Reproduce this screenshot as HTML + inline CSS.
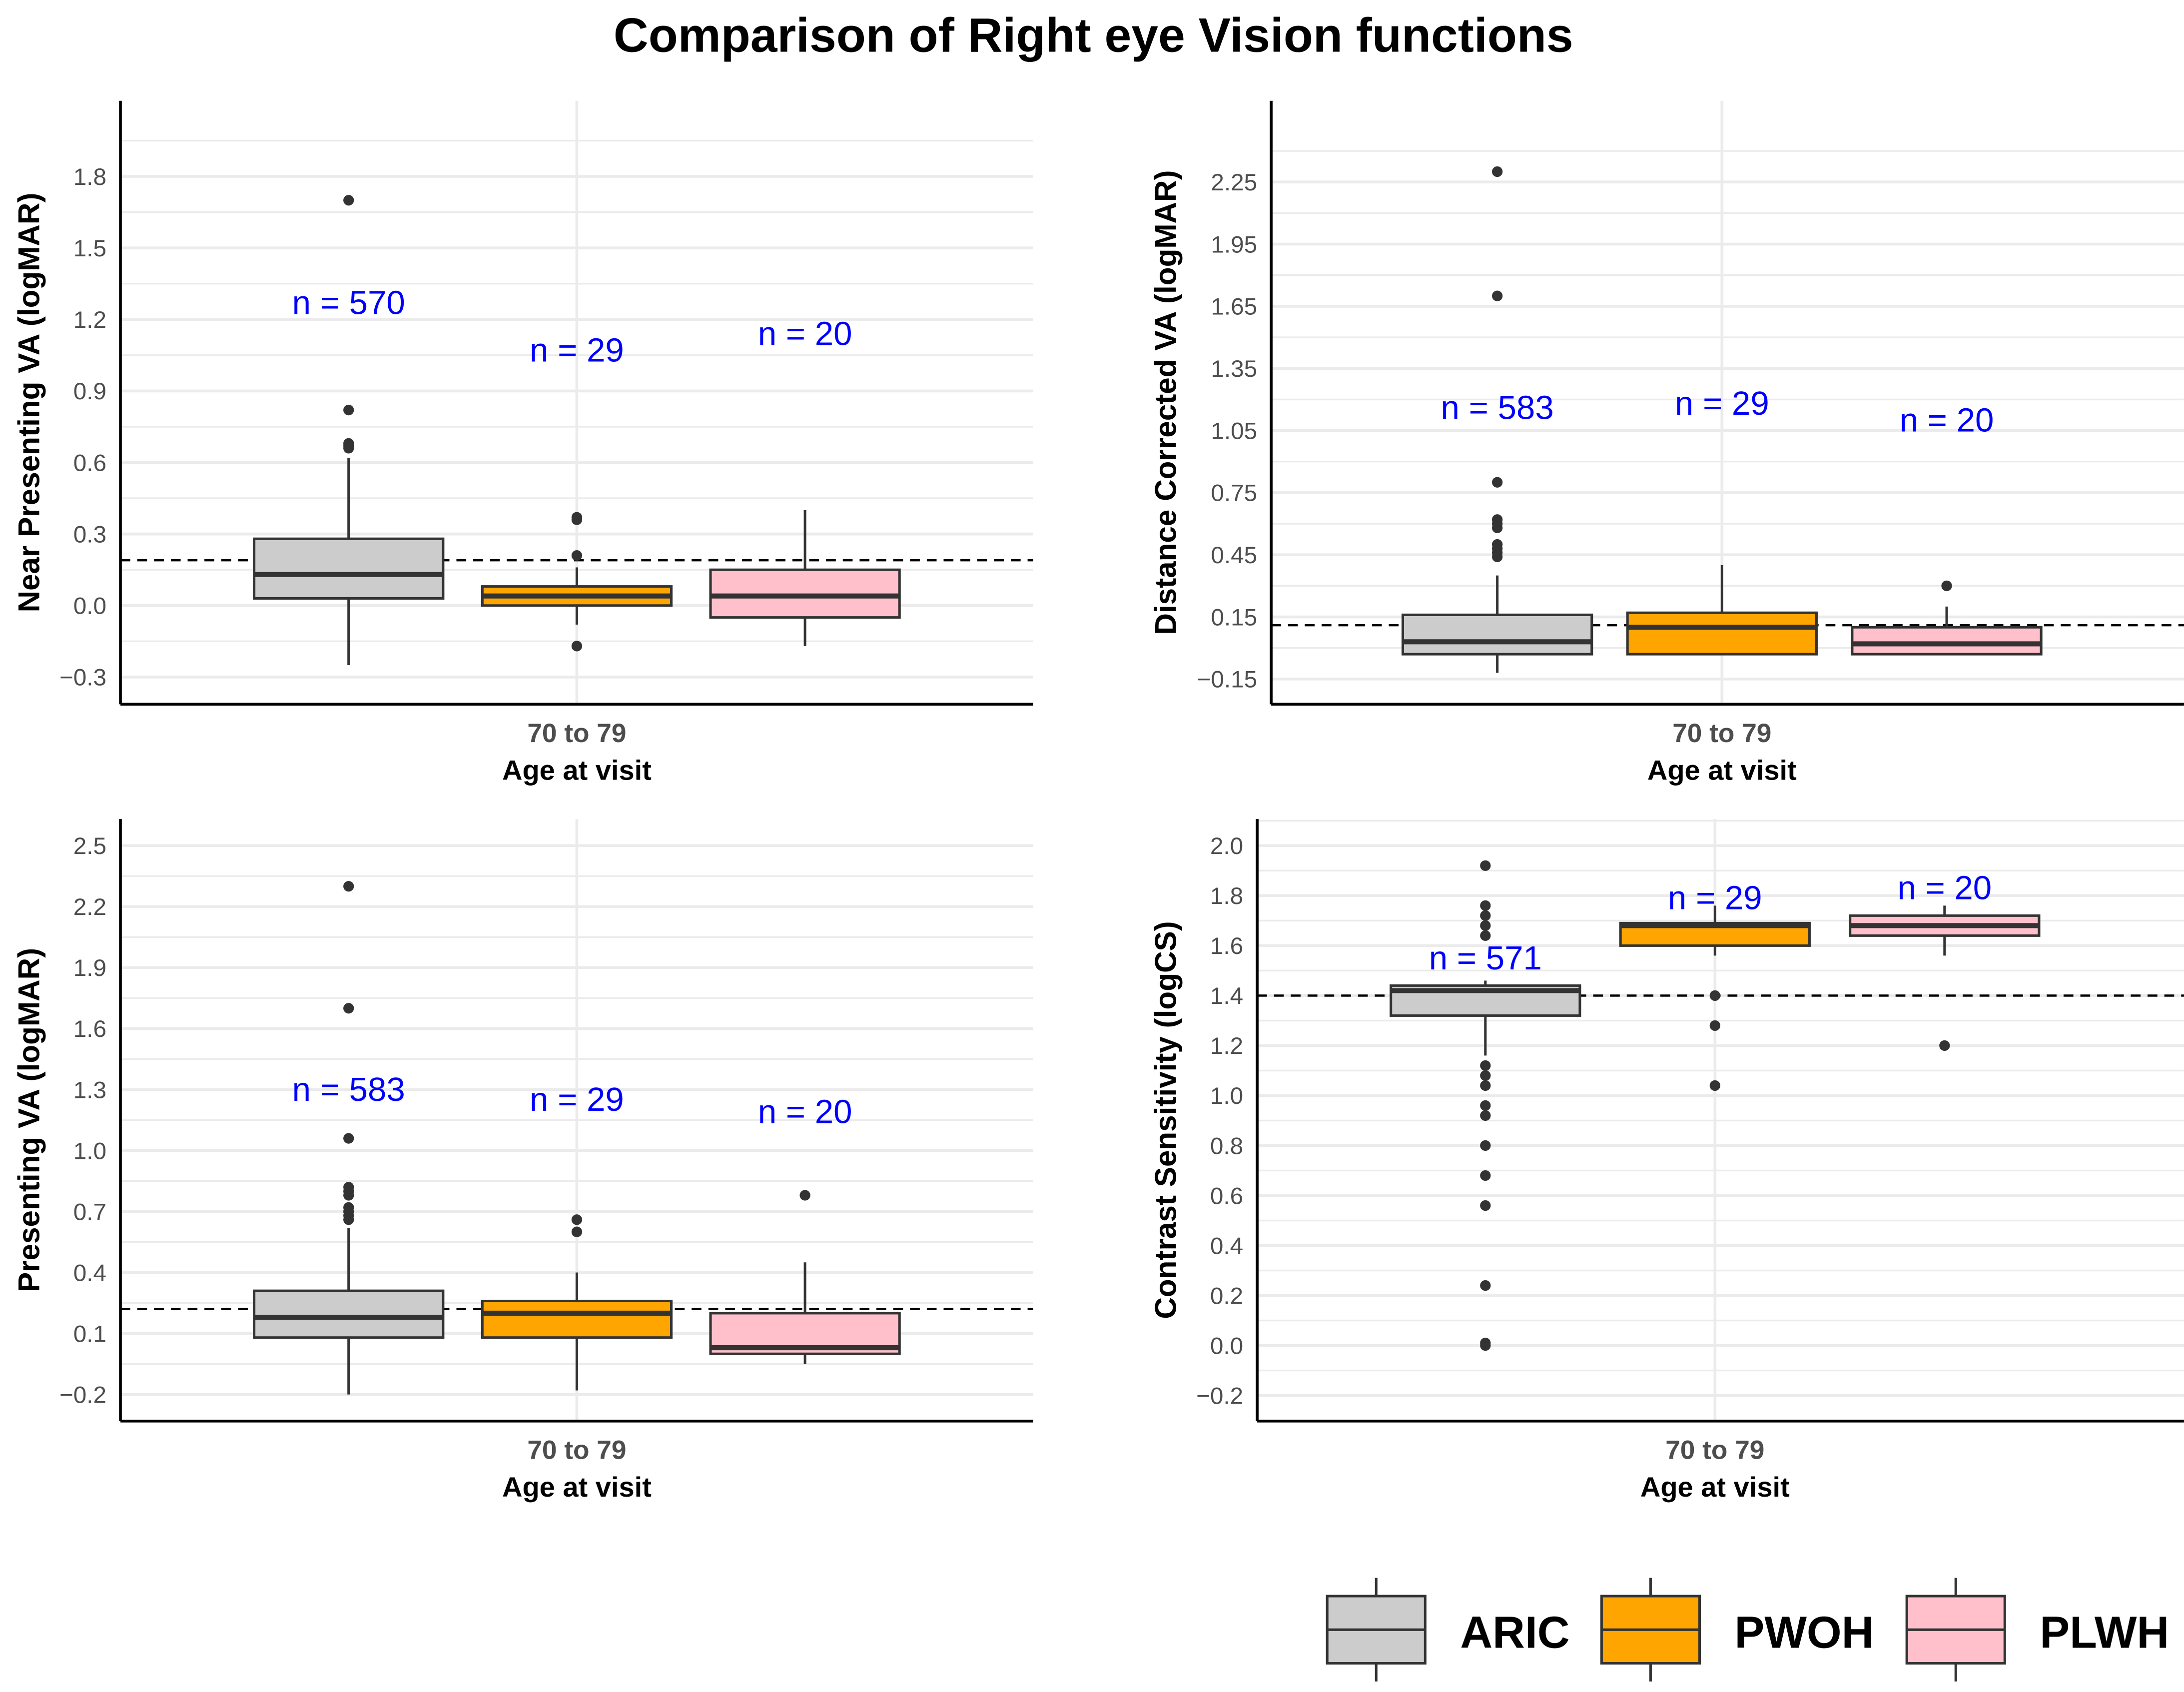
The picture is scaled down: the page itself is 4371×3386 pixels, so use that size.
<!DOCTYPE html>
<html><head><meta charset="utf-8"><style>
html,body{margin:0;padding:0;background:#fff}
svg{display:block}
text{font-family:"Liberation Sans",Arial,sans-serif}
</style></head><body>
<svg id="chart" width="4371" height="3386" viewBox="0 0 1560 1208.5" xmlns="http://www.w3.org/2000/svg">
<rect width="1560" height="1208.5" fill="#fff"/>
<text x="781" y="37" text-anchor="middle" font-size="34.5" font-weight="bold" fill="#000">Comparison of Right eye Vision functions</text>
<g id="panels"></g>
<g id="legend"></g>
</svg>
<script>
// ---- data ----
const groups = ["ARIC","PWOH","PLWH"];
const groupFill = ["#cccccc","#ffa500","#ffc0cb"];
const p1Title = "Near Presenting VA (logMAR)";
const p1Ticks = [-0.3,0,0.3,0.6,0.9,1.2,1.5,1.8];
const p1Stats = [[-0.25,0.03,0.13,0.28,0.62],[-0.08,0.0,0.04,0.08,0.16],[-0.17,-0.05,0.04,0.15,0.40]];
const p1Out = [[1.7,0.82,0.68,0.67,0.66],[0.37,0.36,0.21,-0.17],[]];
const p1N = ["n = 570","n = 29","n = 20"];
const p1NY = [1.27,1.07,1.14];
const p1Ref = 0.19;
const p2Title = "Distance Corrected VA (logMAR)";
const p2Ticks = [-0.15,0.15,0.45,0.75,1.05,1.35,1.65,1.95,2.25];
const p2Stats = [[-0.12,-0.03,0.03,0.16,0.35],[-0.03,-0.03,0.1,0.17,0.4],[-0.03,-0.03,0.02,0.1,0.2]];
const p2Out = [[2.3,1.7,0.8,0.62,0.6,0.58,0.5,0.48,0.46,0.44],[],[0.3]];
const p2N = ["n = 583","n = 29","n = 20"];
const p2NY = [1.16,1.18,1.10];
const p2Ref = 0.11;
const p3Title = "Presenting VA (logMAR)";
const p3Ticks = [-0.2,0.1,0.4,0.7,1.0,1.3,1.6,1.9,2.2,2.5];
const p3Stats = [[-0.2,0.08,0.18,0.31,0.62],[-0.18,0.08,0.2,0.26,0.4],[-0.05,0.0,0.03,0.2,0.45]];
const p3Out = [[2.3,1.7,1.06,0.82,0.8,0.78,0.72,0.7,0.68,0.66],[0.66,0.6],[0.78]];
const p3N = ["n = 583","n = 29","n = 20"];
const p3NY = [1.3,1.25,1.19];
const p3Ref = 0.22;
const p4Title = "Contrast Sensitivity (logCS)";
const p4Ticks = [-0.2,0,0.2,0.4,0.6,0.8,1.0,1.2,1.4,1.6,1.8,2.0];
const p4Stats = [[1.16,1.32,1.42,1.44,1.46],[1.56,1.6,1.68,1.69,1.76],[1.56,1.64,1.68,1.72,1.76]];
const p4Out = [[1.92,1.76,1.72,1.68,1.64,1.12,1.08,1.04,0.96,0.92,0.8,0.68,0.56,0.24,0.01,0.0],[1.4,1.28,1.04],[1.2]];
const p4N = ["n = 571","n = 29","n = 20"];
const p4NY = [1.55,1.79,1.83];
const p4Ref = 1.4;

const NS="http://www.w3.org/2000/svg";
const root=document.getElementById('panels');
function mk(tag,attrs,parent,txt){const e=document.createElementNS(NS,tag);for(const k in attrs)e.setAttribute(k,attrs[k]);if(txt!==undefined)e.textContent=txt;parent.appendChild(e);return e;}
function fmt(v,d){return v<0?'\u2212'+Math.abs(v).toFixed(d):v.toFixed(d);}

function panel(cfg){
  const g=mk('g',{},root);
  
  
  const y=v=>cfg.py0+(v-cfg.v0)*(cfg.py1-cfg.py0)/(cfg.v1-cfg.v0);
  const xg=i=>cfg.cx+(i-1)*cfg.dx;
  const step=cfg.ticks[1]-cfg.ticks[0];
  for(let i=-1;i<cfg.ticks.length;i++){
    const v=cfg.ticks[0]+step*(i+0.5);const yy=y(v);
    if(yy>cfg.top&&yy<cfg.bot){const l=mk('line',{x1:cfg.x0,x2:cfg.x1,y1:yy,y2:yy,stroke:'#ebebeb','stroke-width':1.2},g);}
  }
  cfg.ticks.forEach(v=>{
    const yy=y(v);
    const l=mk('line',{x1:cfg.x0,x2:cfg.x1,y1:yy,y2:yy,stroke:'#ebebeb','stroke-width':2},g);
    
    
    const t=mk('text',{x:cfg.x0-10,y:yy+6,'text-anchor':'end','font-size':17,fill:'#4d4d4d'},g,fmt(v,cfg.dec));
    
    
  });
  const vg=mk('line',{x1:cfg.cx,x2:cfg.cx,y1:cfg.top,y2:cfg.bot,stroke:'#ebebeb','stroke-width':2},g);
  
  
  const rl=mk('line',{x1:cfg.x0,x2:cfg.x1,y1:y(cfg.ref),y2:y(cfg.ref),stroke:'#000','stroke-width':1.6,'stroke-dasharray':'7,5'},g);
  
  
  cfg.stats.forEach((s,i)=>{
    const x=xg(i),hw=67.5;
    const bg=mk('g',{},g);
    
    
    mk('line',{x1:x,x2:x,y1:y(s[0]),y2:y(s[1]),stroke:'#333','stroke-width':1.8},bg);
    mk('line',{x1:x,x2:x,y1:y(s[3]),y2:y(s[4]),stroke:'#333','stroke-width':1.8},bg);
    mk('rect',{x:x-hw,y:y(s[3]),width:2*hw,height:Math.max(y(s[1])-y(s[3]),1),fill:groupFill[i],stroke:'#333','stroke-width':1.8},bg);
    mk('line',{x1:x-hw,x2:x+hw,y1:y(s[2]),y2:y(s[2]),stroke:'#333','stroke-width':3.6},bg);
    cfg.out[i].forEach(o=>{const c=mk('circle',{cx:x,cy:y(o),r:3.8,fill:'#333'},bg);});
    const n=mk('text',{x:x,y:y(cfg.nY[i])+8,'text-anchor':'middle','font-size':24,fill:'#0000ff'},g,cfg.n[i]);
    
    
  });
  const ya=mk('line',{x1:cfg.x0,x2:cfg.x0,y1:cfg.top,y2:cfg.bot,stroke:'#000','stroke-width':2},g);
  
  
  const xa=mk('line',{x1:cfg.x0,x2:cfg.x1,y1:cfg.bot,y2:cfg.bot,stroke:'#000','stroke-width':2},g);
  
  
  const xt=mk('text',{x:cfg.cx,y:cfg.bot+27,'text-anchor':'middle','font-size':19,'font-weight':'bold',fill:'#4d4d4d'},g,'70 to 79');
  
  
  const xl=mk('text',{x:cfg.cx,y:cfg.bot+54,'text-anchor':'middle','font-size':20,'font-weight':'bold',fill:'#000'},g,'Age at visit');
  
  
  const ymid=(cfg.top+cfg.bot)/2;
  const yl=mk('text',{x:cfg.ytx,y:ymid,'text-anchor':'middle','font-size':21.5,'font-weight':'bold',fill:'#000',transform:`rotate(-90 ${cfg.ytx} ${ymid})`},g,cfg.title);
  
  
}
panel({name:'panel-near-presenting-va',x0:86,x1:738,top:72,bot:503,cx:412,dx:163,v0:0,py0:432.5,v1:1.8,py1:126,ticks:p1Ticks,dec:1,stats:p1Stats,out:p1Out,n:p1N,nY:p1NY,ref:p1Ref,title:p1Title,ytx:28});
panel({name:'panel-distance-corrected-va',x0:908,x1:1560,top:72,bot:503,cx:1230,dx:160.5,v0:-0.15,py0:485,v1:2.25,py1:130,ticks:p2Ticks,dec:2,stats:p2Stats,out:p2Out,n:p2N,nY:p2NY,ref:p2Ref,title:p2Title,ytx:840});
panel({name:'panel-presenting-va',x0:86,x1:738,top:585,bot:1015,cx:412,dx:163,v0:-0.2,py0:996,v1:2.5,py1:604,ticks:p3Ticks,dec:1,stats:p3Stats,out:p3Out,n:p3N,nY:p3NY,ref:p3Ref,title:p3Title,ytx:28});
panel({name:'panel-contrast-sensitivity',x0:898,x1:1560,top:585,bot:1015,cx:1225,dx:164,v0:0,py0:961,v1:2.0,py1:604,ticks:p4Ticks,dec:1,stats:p4Stats,out:p4Out,n:p4N,nY:p4NY,ref:p4Ref,title:p4Title,ytx:840});

const lg=document.getElementById('legend');
const legX=[948,1144,1362];
groups.forEach((gname,i)=>{
  const e=mk('g',{},lg);
  
  
  const x=legX[i];
  mk('line',{x1:x+35,x2:x+35,y1:1127,y2:1201,stroke:'#333','stroke-width':1.8},e);
  mk('rect',{x:x,y:1140,width:70,height:48,fill:groupFill[i],stroke:'#333','stroke-width':1.8},e);
  mk('line',{x1:x,x2:x+70,y1:1164,y2:1164,stroke:'#333','stroke-width':1.8},e);
  mk('text',{x:x+95,y:1177,'font-size':32,'font-weight':'bold',fill:'#000'},e,gname);
});
</script>
</body></html>
